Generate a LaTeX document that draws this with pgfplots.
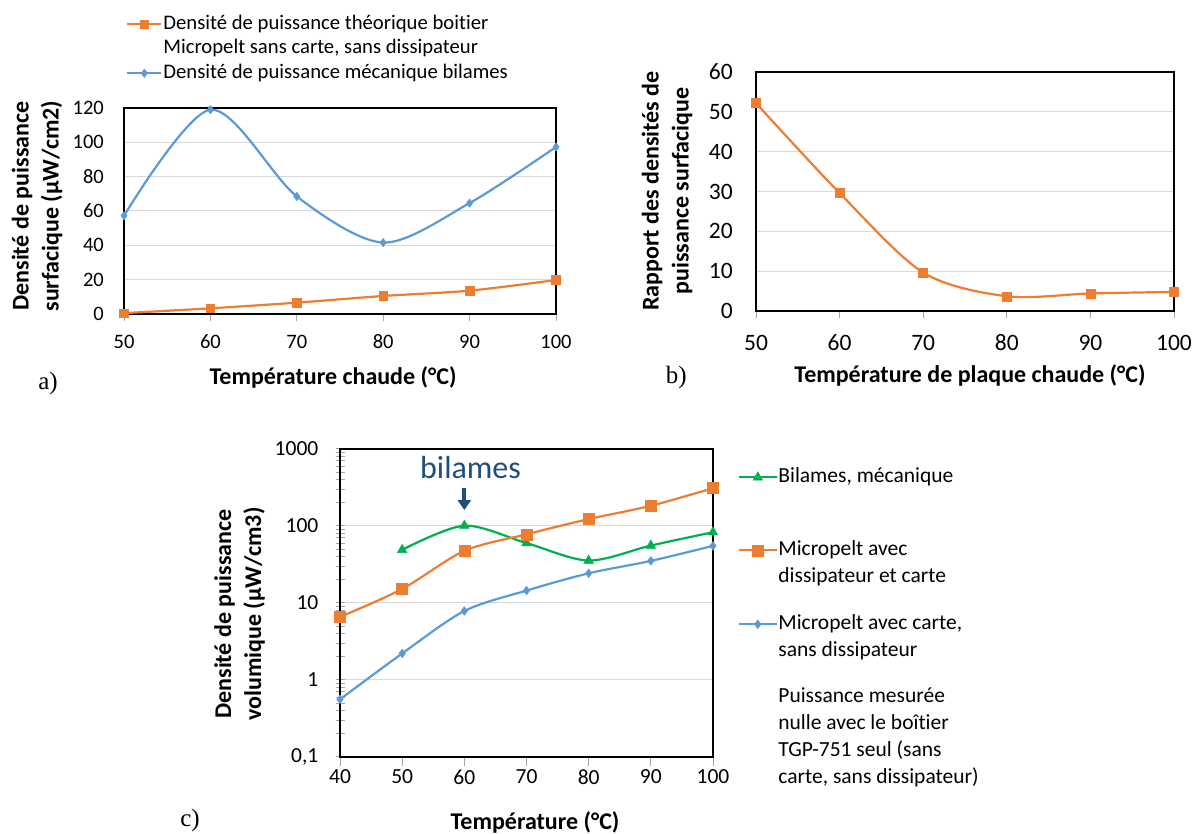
\documentclass[border=0pt]{standalone}
\usepackage{fontspec}
\setmainfont{Carlito}[Ligatures=NoCommon]
\newfontfamily\seriffont{Liberation Serif}
\usepackage{pgfplots}
\pgfplotsset{compat=1.18}
\usetikzlibrary{arrows.meta}
\definecolor{xorange}{HTML}{ED7D31}
\definecolor{xblue}{HTML}{5B9BD5}
\definecolor{xgreen}{HTML}{00B050}
\definecolor{xgrid}{HTML}{D9D9D9}
\definecolor{xdark}{HTML}{1F4E79}
\definecolor{tickgray}{HTML}{A6A6A6}
\newcommand{\tickfont}{\fontsize{20.5}{25}\selectfont}
\newcommand{\labfont}{\fontsize{24}{30}\selectfont\bfseries}
\newcommand{\letfont}{\seriffont\fontsize{25}{28}\selectfont}
\newcommand{\strA}{\rule[-7.35pt]{0pt}{24.5pt}}
\newcommand{\strC}{\rule[-7.8pt]{0pt}{26pt}}
\pgfplotsset{
  xlstyle/.style={
    scale only axis,
    anchor=south west,
    axis line style={black, line width=1.2pt},
    /pgf/number format/assume math mode=true,
    ticklabel style={font=\tickfont},
    ymajorgrids, grid style={xgrid, line width=1pt},
    xtick pos=bottom, ytick pos=left,
    tick style={tickgray, line width=1pt},
    clip=false,
    label style={font=\labfont, align=center},
    legend cell align=left,
  },
}
\begin{document}
\begin{tikzpicture}
\path[use as bounding box] (0,0) rectangle (1194pt,834pt);

% ---------------- a)
\begin{axis}[xlstyle, at={(124pt,520pt)}, width=432pt, height=206pt,
  xmin=50, xmax=100, ymin=0, ymax=120,
  xtick={50,60,...,100}, ytick={0,20,...,120},
  ytick style={draw=none}, tick align=outside, major tick length=7pt,
  xticklabel style={anchor=center, inner sep=0pt, yshift=-21pt},
  yticklabel style={anchor=east, inner sep=0pt, xshift=-13pt},
  xlabel={Température chaude (°C)},
  ylabel={Densité de puissance\\surfacique (µW/cm2)},
  xlabel style={at={(axis description cs:0.484,-0.306)}, anchor=center},
  ylabel style={at={(axis description cs:-0.201,0.524)}, anchor=center},
  legend style={at={(axis description cs:0.0046,1.467)}, anchor=north west,
    draw=none, fill=none, inner sep=0pt, row sep=0pt, column sep=1pt,
    font=\fontsize{20.7}{24.5}\selectfont, nodes={inner sep=0pt, text depth={}, text height={}}},
  legend image code/.code={\draw[mark repeat=2,mark phase=2] plot coordinates {(0pt,0pt) (17pt,0pt) (34pt,0pt)};},
]
\addplot[xorange, line width=2.2pt, smooth, mark=square*, mark size=4.3pt, mark options={solid, line width=0.5pt}]
  coordinates {(50,0.5)(60,3.3)(70,6.6)(80,10.5)(90,13.6)(100,19.8)};
\addlegendentry{\strA Densité de puissance théorique boitier}
\addlegendimage{empty legend}
\addlegendentry{\strA Micropelt sans carte, sans dissipateur}
\addplot[xblue, line width=2.2pt, smooth, mark=diamond*, mark size=4.2pt, mark options={solid, line width=0.5pt}]
  coordinates {(50,57.2)(60,119)(70,68.5)(80,41.6)(90,64.6)(100,97.3)};
\addlegendentry{\strA Densité de puissance mécanique bilames}
\node[font=\letfont] at (axis description cs:-0.176,-0.335) {a)};
\end{axis}

% ---------------- b)
\begin{axis}[xlstyle, at={(756pt,523pt)}, width=418pt, height=239pt,
  xmin=50, xmax=100, ymin=0, ymax=60,
  xtick={50,60,...,100}, ytick={0,10,...,60},
  ticklabel style={font=\fontsize{23.5}{27}\selectfont},
  ytick style={draw=none}, tick align=outside, major tick length=7pt,
  xticklabel style={anchor=center, inner sep=0pt, yshift=-25pt},
  yticklabel style={anchor=east, inner sep=0pt, xshift=-16pt},
  xlabel={Température de plaque chaude (°C)},
  ylabel={Rapport des densités de\\puissance surfacique},
  xlabel style={at={(axis description cs:0.512,-0.268)}, anchor=center},
  ylabel style={at={(axis description cs:-0.213,0.502)}, anchor=center},
]
\addplot[xorange, line width=2.2pt, smooth, mark=square*, mark size=4.5pt, mark options={solid, line width=0.5pt}]
  coordinates {(50,52.2)(60,29.6)(70,9.65)(80,3.7)(90,4.4)(100,4.8)};
\node[font=\letfont] at (axis description cs:-0.191,-0.280) {b)};
\end{axis}

% ---------------- c)
\begin{axis}[xlstyle, at={(340pt,77pt)}, width=373pt, height=308pt,
  ymode=log, xmin=40, xmax=100, ymin=0.1, ymax=1000,
  xtick={40,50,...,100},
  ytick={0.1,1,10,100,1000}, yticklabels={{0,1},1,10,100,1000},
  minor ytick={0.2,0.3,0.4,0.5,0.6,0.7,0.8,0.9,2,3,4,5,6,7,8,9,20,30,40,50,60,70,80,90,200,300,400,500,600,700,800,900},
  ticklabel style={font=\fontsize{21.5}{26}\selectfont},
  xtick align=outside, ytick align=center,
  major tick length=9pt, minor tick length=9pt,
  xticklabel style={anchor=center, inner sep=0pt, yshift=-11pt},
  yticklabel style={anchor=east, inner sep=0pt, xshift=-17pt},
  xlabel={Température (°C)},
  ylabel={Densité de puissance\\volumique (µW/cm3)},
  xlabel style={at={(axis description cs:0.523,-0.214)}, anchor=center},
  ylabel style={at={(axis description cs:-0.269,0.464)}, anchor=center},
  legend style={at={(axis description cs:1.067,0.951)}, anchor=north west,
    draw=none, fill=none, inner sep=0pt, row sep=1pt, column sep=1pt,
    font=\fontsize{21.5}{26}\selectfont, nodes={inner sep=0pt, text depth={}, text height={}}},
  legend image code/.code={\draw[mark repeat=2,mark phase=2] plot coordinates {(0pt,0pt) (18.5pt,0pt) (37pt,0pt)};},
]
\addplot[xgreen, line width=2.2pt, smooth, mark=triangle*, mark size=5.5pt, mark options={solid, line width=0.5pt}]
  coordinates {(50,49)(60,101)(70,60)(80,35.6)(90,55.7)(100,83)};
\addlegendentry{\strC Bilames, mécanique}
\addlegendimage{empty legend}
\addlegendentry{\rule{0pt}{45pt}}
\addplot[xorange, line width=2.2pt, smooth, mark=square*, mark size=5.5pt, mark options={solid, line width=0.5pt}]
  coordinates {(40,6.6)(50,15.2)(60,47.5)(70,78)(80,123)(90,183)(100,310)};
\addlegendentry{\strC Micropelt avec}
\addlegendimage{empty legend}
\addlegendentry{\strC dissipateur et carte}
\addlegendimage{empty legend}
\addlegendentry{\rule{0pt}{19pt}}
\addplot[xblue, line width=2.2pt, smooth, mark=diamond*, mark size=4.3pt, mark options={solid, line width=0.5pt}]
  coordinates {(40,0.56)(50,2.21)(60,7.87)(70,14.5)(80,24.3)(90,35.2)(100,55.2)};
\addlegendentry{\strC Micropelt avec carte,}
\addlegendimage{empty legend}
\addlegendentry{\strC sans dissipateur}
\addlegendimage{empty legend}
\addlegendentry{\rule{0pt}{18pt}}
\addlegendimage{empty legend}
\addlegendentry{\strC Puissance mesurée}
\addlegendimage{empty legend}
\addlegendentry{\strC nulle avec le boîtier}
\addlegendimage{empty legend}
\addlegendentry{\strC TGP-751 seul (sans}
\addlegendimage{empty legend}
\addlegendentry{\strC carte, sans dissipateur)}
\node[font=\fontsize{32}{36}\selectfont, text=xdark] at (axis cs:61,583) {bilames};
\draw[xdark, line width=4pt, -{Triangle[width=13pt,length=10pt]}] (axis cs:60,312) -- (axis cs:60,161);
\node[font=\letfont] at (axis description cs:-0.402,-0.205) {c)};
\end{axis}
\end{tikzpicture}
\end{document}
